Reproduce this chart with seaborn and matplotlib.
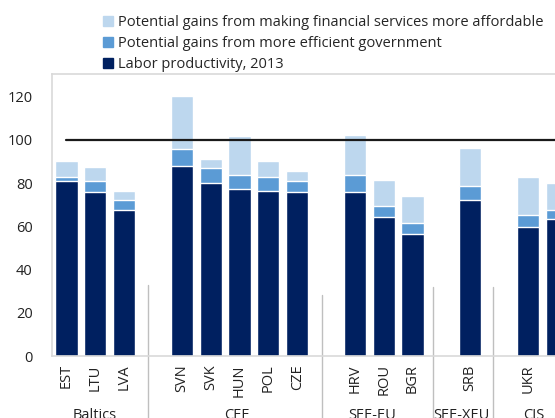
import matplotlib
matplotlib.use('Agg')
import matplotlib.pyplot as plt
import matplotlib.transforms as mtransforms
from matplotlib.patches import Patch
import seaborn as sns
import pandas as pd

sns.set_style('white')
plt.rcParams['font.family'] = ['Open Sans', 'DejaVu Sans']

# Data
countries = ['EST', 'LTU', 'LVA', 'SVN', 'SVK', 'HUN', 'POL', 'CZE',
             'HRV', 'ROU', 'BGR', 'SRB', 'UKR', 'RUS']
labor = [81.2, 75.8, 67.5, 87.9, 79.9, 77.1, 76.6, 76.1,
         76.0, 64.5, 56.6, 72.0, 59.9, 63.2]
gov_gain = [1.7, 5.3, 4.5, 8.0, 7.2, 6.5, 6.3, 4.7,
            7.8, 4.8, 4.9, 6.9, 5.6, 4.5]
fin_gain = [7.3, 6.5, 4.3, 24.4, 4.0, 18.2, 7.3, 4.9,
            18.3, 12.0, 12.4, 17.6, 17.3, 12.3]
slots = ['EST', 'LTU', 'LVA', ' ', 'SVN', 'SVK', 'HUN', 'POL', 'CZE', '  ',
         'HRV', 'ROU', 'BGR', '   ', 'SRB', '    ', 'UKR', 'RUS']
groups = ['Baltics', 'CEE', 'SEE-EU', 'SEE-XEU', 'CIS']
group_pos = [0.99, 5.9, 10.6, 13.7, 16.2]
separators = [2.84, 8.86, 12.72, 14.80]
sep_tops = [0.252, 0.217, 0.245, 0.245]
benchmark = 100

c_dark = '#002060'
c_mid = '#5B9BD5'
c_light = '#BDD7EE'

df = pd.DataFrame({'country': countries, 'labor': labor,
                   'gov': gov_gain, 'fin': fin_gain})
df['mid_top'] = df['labor'] + df['gov']
df['total'] = df['mid_top'] + df['fin']

fig = plt.figure(figsize=(5.55, 4.18), dpi=100)
ax = fig.add_axes([52 / 555, 62 / 418, 1 - 52 / 555, (356 - 74.3) / 418])

sns.barplot(data=df, x='country', y='total', order=slots, color=c_light,
            width=0.77, saturation=1, ax=ax)
sns.barplot(data=df, x='country', y='mid_top', order=slots, color=c_mid,
            width=0.77, saturation=1, ax=ax)
sns.barplot(data=df, x='country', y='labor', order=slots, color=c_dark,
            width=0.77, saturation=1, ax=ax)

ax.axhline(benchmark, xmin=0.5 / 17.44, xmax=1, color='#1a1a1a', lw=1.6, zorder=5)

ax.set_xlim(-0.5, 16.94)
ax.set_ylim(0, 130.4)
ax.set_yticks([0, 20, 40, 60, 80, 100, 120])
ax.tick_params(axis='y', length=0, pad=14, labelsize=10.5, colors='#222222')
ax.tick_params(axis='x', length=0, pad=6, labelsize=10.5, colors='#222222',
               labelrotation=90)
ax.set_xlabel('')
ax.set_ylabel('')
for side in ['left', 'top', 'bottom']:
    ax.spines[side].set_color('#D9D9D9')
    ax.spines[side].set_linewidth(1.2)
ax.spines['right'].set_visible(False)

trans = mtransforms.blended_transform_factory(ax.transData, ax.transAxes)
for xs, top in zip(separators, sep_tops):
    ax.plot([xs, xs], [top, -0.25], transform=trans, color='#BFBFBF',
            lw=1, clip_on=False)
for name, xp in zip(groups, group_pos):
    ax.text(xp, -0.186, name, transform=trans, ha='center', va='top',
            fontsize=10.5, color='#222222')

handles = [Patch(color=c_light), Patch(color=c_mid), Patch(color=c_dark)]
labels = ['Potential gains from making financial services more affordable',
          'Potential gains from more efficient government',
          'Labor productivity, 2013']
fig.legend(handles, labels, loc='upper left', bbox_to_anchor=(103 / 555, 1 - 15 / 418),
           frameon=False, fontsize=10.5, handlelength=0.68, handleheight=0.68,
           handletextpad=0.35, labelspacing=0.42, borderaxespad=0, borderpad=0)

fig.savefig('out.png', dpi=100)
